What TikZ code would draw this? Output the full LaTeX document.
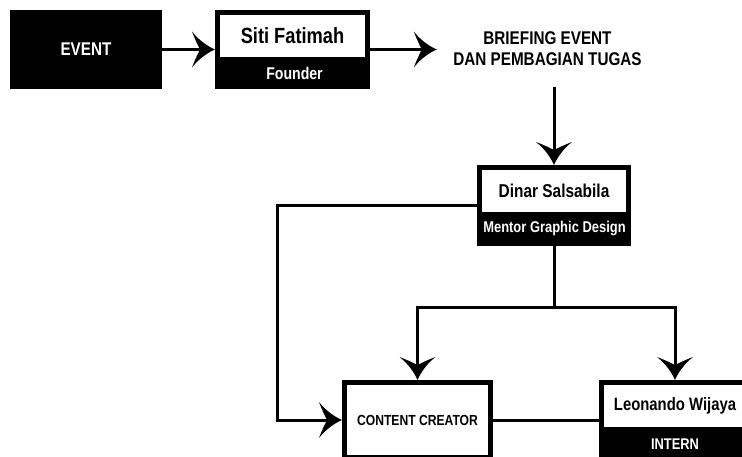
\documentclass[tikz,border=0pt]{standalone}
\usepackage{fontspec}
\setmainfont{Liberation Sans}[FakeStretch=0.83]
\usetikzlibrary{arrows.meta,calc}
\pgfdeclarearrow{
  name = Curvy,
  parameters = {},
  setup code = {
    \pgfarrowssettipend{0pt}
    \pgfarrowssetlineend{-14pt}
    \pgfarrowssetbackend{-23pt}
    \pgfarrowsupperhullpoint{-23pt}{18pt}
    \pgfarrowsupperhullpoint{0pt}{0pt}
  },
  drawing code = {
    \pgfpathmoveto{\pgfpoint{0pt}{0pt}}
    \pgfpathcurveto{\pgfpoint{-7pt}{3pt}}{\pgfpoint{-16pt}{9pt}}{\pgfpoint{-23pt}{18pt}}
    \pgfpathcurveto{\pgfpoint{-20pt}{10pt}}{\pgfpoint{-17pt}{4pt}}{\pgfpoint{-15pt}{0pt}}
    \pgfpathcurveto{\pgfpoint{-17pt}{-4pt}}{\pgfpoint{-20pt}{-10pt}}{\pgfpoint{-23pt}{-18pt}}
    \pgfpathcurveto{\pgfpoint{-16pt}{-9pt}}{\pgfpoint{-7pt}{-3pt}}{\pgfpoint{0pt}{0pt}}
    \pgfpathclose
    \pgfusepathqfill
  }
}
\begin{document}
\begin{tikzpicture}[x=1pt,y=-1pt,
  conn/.style={line width=3pt,draw=black},
  arr/.style={conn,-{Curvy}},
  blackbox/.style={fill=black,inner sep=0pt,outer sep=0pt},
  whitebox/.style={fill=white,inner sep=0pt,outer sep=0pt},
  frame/.style={draw=black,line width=5pt,fill=white,inner sep=0pt},
  lbl/.style={font=\bfseries\fontsize{#1}{#1}\selectfont,inner sep=0pt,text=black},
  wlbl/.style={lbl=#1,text=white}
]
\useasboundingbox (0,0) rectangle (742,457);

% EVENT
\node[blackbox,wlbl=18.4,minimum width=152pt,minimum height=79pt] (event) at (86,49.5) {EVENT};

% Siti Fatimah
\node[blackbox,minimum width=155pt,minimum height=79pt] (siti) at (292.5,49.5) {};
\node[whitebox,lbl=22,minimum width=145pt,minimum height=42pt] (sitiname) at (292.5,36) {Siti Fatimah};
\node[wlbl=17] (sitirole) at (294.5,73) {Founder};

% Briefing
\node[inner sep=0pt,font=\bfseries\fontsize{18.4}{21}\selectfont,align=center,
      minimum width=221pt,minimum height=77pt] (brief) at (547.5,48.5)
      {BRIEFING EVENT\\DAN PEMBAGIAN TUGAS};

% Dinar Salsabila
\node[blackbox,minimum width=154pt,minimum height=81pt] (dinar) at (554,205.5) {};
\node[whitebox,lbl=18.6,minimum width=144pt,minimum height=42pt] (dinarname) at (554,191) {Dinar Salsabila};
\node[wlbl=15.6] (dinarrole) at (554.5,229) {Mentor Graphic Design};

% Content creator
\node[frame,lbl=14.6,minimum width=146pt,minimum height=75pt] (content) at (417.5,420) {CONTENT CREATOR};

% Leonando Wijaya
\node[blackbox,minimum width=152pt,minimum height=80pt] (leo) at (675,420) {};
\node[whitebox,lbl=17.9,minimum width=142pt,minimum height=42pt] (leoname) at (675,406) {Leonando Wijaya};
\node[wlbl=15.5] (leorole) at (675,444) {INTERN};

\coordinate (lc) at (277,300);
\coordinate (fork) at (554,307);

% connectors
\draw[arr] (event) -- (siti);
\draw[arr] (siti.east) -- (siti.east -| brief.west);
\draw[arr] (brief.south -| dinar.north) -- (dinar.north);
\draw[arr] (dinar.west) -- (dinar.west -| lc) |- (content.west);
\draw[conn] (dinar.south) -- (fork);
\draw[arr] (fork) -| (content.north);
\draw[arr] (fork) -| (leo.north);
\draw[conn] (content.east) -- (leo.west);
\end{tikzpicture}
\end{document}
